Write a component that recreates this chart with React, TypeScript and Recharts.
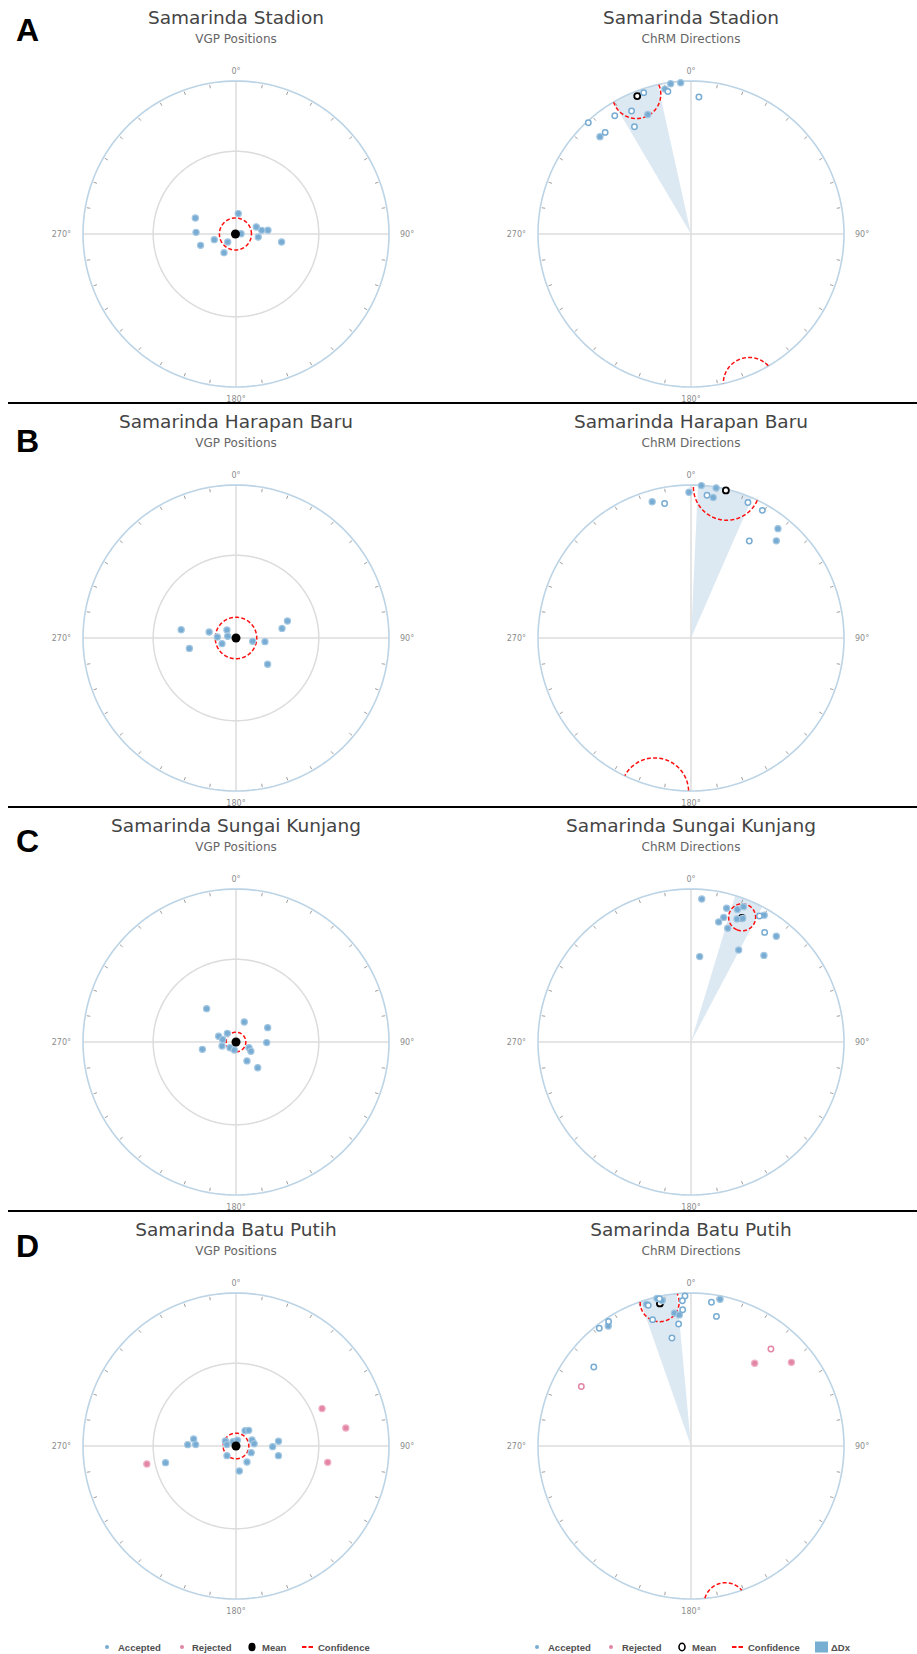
import React from "react";
import { ScatterChart, Scatter, XAxis, YAxis } from "recharts";

type Pair = [number, number];

// panel letters and site names
const letters = ["A", "B", "C", "D"];
const siteNames = [
  "Samarinda Stadion",
  "Samarinda Harapan Baru",
  "Samarinda Sungai Kunjang",
  "Samarinda Batu Putih",
];

// VGP positions, [longitude, latitude]
const vgpA: Pair[] = [
  [6.4, 79.1], [291.5, 66.7], [272.4, 68.7], [252.2, 70.2], [255.4, 78.1], [226.1, 83.9], [212.6, 78.2],
  [86.5, 87.3], [70.9, 78.6], [81.9, 76.2], [83.4, 72.9], [97.8, 78.1], [99.9, 65.3],
];
const vgpB: Pair[] = [
  [278.6, 60.3], [257.4, 64.5], [282.5, 75.4], [273, 80.1], [311.4, 83.6], [281.5, 85.5], [248, 82.0],
  [101.4, 81.0], [97.2, 74.5], [78.2, 64.9], [71.7, 61.0], [129.7, 68.1],
];
const vgpC: Pair[] = [
  [318.6, 66.3], [22.4, 78.5], [65.6, 71.5], [91.1, 73.7], [288.1, 80.3], [315, 83.5], [281, 82.8], [254, 82.3],
  [257.7, 71.7], [226.5, 85.6], [192, 85.7], [113.5, 82.5], [121.9, 80.7], [149.9, 78.4], [139.8, 72.1],
];
const vgpD: Pair[] = [
  [271.6, 64.2], [279.4, 67.1], [272, 68.5], [256.7, 50.9], [295, 83.8], [278.7, 85.1], [324.5, 87.2],
  [13.2, 86.9], [30.7, 80.6], [39.1, 79.3], [69.5, 80.9], [82.8, 80.3], [113.7, 81.2], [145.6, 79.7],
  [172.4, 76.6], [223.1, 83.0], [91, 70.5], [83.6, 67.2], [102.8, 66.8],
];
const vgpRejectedD: Pair[] = [[66.5, 38.6], [80.7, 28.1], [100.1, 39.0], [258.6, 40.3]];
const vgpMeans: Pair[] = [[270, 89.7], [0, 90], [0, 90], [0, 90]];
const vgpA95 = [8.5, 11, 5.2, 6.8];

// ChRM directions, [declination, inclination]; negative inclination = upper hemisphere (open symbol)
const chrmA: Pair[] = [
  [356.1, 0.5], [352.3, 0.5], [349.8, 2.2], [340.1, 10.6], [316.9, 7.9],
  [350.8, -3.3], [341.5, -1.5], [3.3, -6.2], [334.2, -6.5], [327.2, -4.8], [317.3, -0.6], [319.8, -8.0], [332.2, -13.2],
];
const chrmB: Pair[] = [
  [3.9, 0.1], [9.5, 0.3], [359.2, 2.8], [9.0, 4.2], [344.1, 4.4], [38.5, 5.2], [41.3, 9.6],
  [6.4, -3.6], [348.9, -6.3], [22.8, -2.3], [29.2, -2.6], [31.0, -17.0],
];
const chrmC: Pair[] = [
  [4.3, 3.7], [14.9, 5.7], [14.7, 9.8], [13.0, 12.3], [17.9, 14.0], [19.3, 4.9], [21.2, 3.0], [20.5, 8.7],
  [22.7, 7.6], [30.0, 2.5], [38.9, 6.8], [27.4, 21.8], [40.1, 17.0], [5.8, 31.4], [28.5, -3.7], [33.9, -8.4],
];
const chrmD: Pair[] = [
  [342.6, 1.7], [347, 0.6], [348.8, 1.8], [325.4, 2.8], [11.2, 1.3], [352.9, 7.6], [354.9, 8.6],
  [357.7, -1.1], [356.6, -2.9], [356.5, -6.5], [343.1, -2.3], [347.9, -0.9], [343.1, -8.4], [354.2, -12.6],
  [350, -18.7], [326.5, -1.4], [322.1, -1.4], [309.1, -11.4], [8.1, -3.0], [11.1, -8.4],
];
const chrmRejectedD: Pair[] = [[37.6, 21.4], [50.2, 9.0], [39.5, -11.2], [298.5, -11.6]];
const chrmMeans: Pair[] = [[338.7, -1.9], [13.3, -0.5], [22.3, 7.5], [347.7, 2.7]];
const chrmA95 = [9.3, 12.4, 5.7, 7.6];
const deltaDx = [9.2, 10.7, 5.5, 7.0];

const degLabels = ["0°", "90°", "180°", "270°"];

const vgpAccepted = [vgpA, vgpB, vgpC, vgpD];
const vgpRejected: Pair[][] = [[], [], [], vgpRejectedD];
const chrmAccepted = [chrmA, chrmB, chrmC, chrmD];
const chrmRejected: Pair[][] = [[], [], [], chrmRejectedD];

// colours
const BLUE = "#78acd2";
const BLUE_HALO = "#a3c7e2";
const PINK = "#e386a6";
const PINK_HALO = "#efb0c5";
const RIM = "#bcd4e5";
const GRID = "#dcdcdc";
const RED = "#ff1010";
const WEDGE = "#dde9f2";

const rad = (d: number) => (d * Math.PI) / 180;
const deg = (r: number) => (r * 180) / Math.PI;

// VGP plots: equal-area about the pole
function projVgp(lon: number, lat: number) {
  const r = Math.SQRT2 * Math.sin(rad(90 - lat) / 2);
  return { x: r * Math.sin(rad(lon)), y: r * Math.cos(rad(lon)) };
}
// ChRM plots: equal-angle net
function projDir(dec: number, inc: number) {
  const r = Math.tan(rad(90 - Math.abs(inc)) / 2);
  return { x: r * Math.sin(rad(dec)), y: r * Math.cos(rad(dec)) };
}

function toVec(d: number, i: number) {
  const c = Math.cos(rad(i));
  return [c * Math.cos(rad(d)), c * Math.sin(rad(d)), Math.sin(rad(i))];
}
function toDir(v: number[]): Pair {
  const z = Math.max(-1, Math.min(1, v[2]));
  return [(deg(Math.atan2(v[1], v[0])) + 360) % 360, deg(Math.asin(z))];
}

// confidence cone, split where it crosses the primitive (axial -> antipode)
function coneSegments(d0: number, i0: number, alpha: number, proj: (a: number, b: number) => { x: number; y: number }, axial: boolean) {
  const c = toVec(d0, i0);
  const si = Math.sin(rad(i0)), ci = Math.cos(rad(i0));
  const sd = Math.sin(rad(d0)), cd = Math.cos(rad(d0));
  const u = [-si * cd, -si * sd, ci];
  const v = [-sd, cd, 0];
  const side = i0 >= 0 ? 1 : -1;
  const ca = Math.cos(rad(alpha)), sa = Math.sin(rad(alpha));
  const pts: { x: number; y: number; flip: boolean }[] = [];
  for (let t = 0; t < 360; t += 1) {
    const ct = Math.cos(rad(t)), st = Math.sin(rad(t));
    let p = [0, 1, 2].map((k) => ca * c[k] + sa * (ct * u[k] + st * v[k]));
    const flip = axial && p[2] * side < 0;
    if (flip) p = p.map((q) => -q);
    const [a, b] = toDir(p);
    pts.push({ ...proj(a, b), flip });
  }
  const n = pts.length;
  let start = -1;
  for (let k = 0; k < n; k++) {
    if (pts[k].flip !== pts[(k + n - 1) % n].flip) { start = k; break; }
  }
  if (start < 0) return [[...pts, pts[0]]];
  const segs: typeof pts[] = [];
  let cur: typeof pts = [];
  for (let j = 0; j < n; j++) {
    const p = pts[(start + j) % n];
    if (cur.length && p.flip !== cur[cur.length - 1].flip) { segs.push(cur); cur = []; }
    cur.push(p);
  }
  segs.push(cur);
  return segs;
}

const CHART_W = 458;
const CHART_H = 404;
const LEFT_MARGIN = { top: 81, bottom: 17, left: 83, right: 69 };
const RIGHT_MARGIN = { top: 81, bottom: 17, left: 80, right: 72 };

const noDot = () => <g />;

function polyline(key: string, data: any[], stroke: string, width: number, dash?: string) {
  return (
    <Scatter
      key={key}
      data={data}
      fill={stroke}
      shape={noDot}
      line={{ stroke, strokeWidth: width, strokeDasharray: dash, fill: "none" }}
      isAnimationActive={false}
      legendType="none"
    />
  );
}

const tickShape = (p: any) => {
  const a = rad(p.payload.az);
  const s = Math.sin(a), c = Math.cos(a);
  return <line x1={p.cx - s * 1.5} y1={p.cy + c * 1.5} x2={p.cx - s * 5} y2={p.cy + c * 5} stroke="#a0a0a0" strokeWidth={1} />;
};

const labelShape = (p: any) => {
  const az = p.payload.az;
  let dx = 0, dy = 0;
  let anchor: "middle" | "start" | "end" = "middle";
  if (az === 0) dy = -10;
  else if (az === 180) dy = 12;
  else if (az === 90) { dx = 11; anchor = "start"; }
  else { dx = -12; anchor = "end"; }
  return (
    <text x={p.cx + dx} y={p.cy + dy} textAnchor={anchor} dominantBaseline="central" fontSize={8} fill="#8c8c8c" fontFamily="DejaVu Sans">
      {p.payload.label}
    </text>
  );
};

const solidDot = (fill: string, halo: string) => (p: any) =>
  <circle cx={p.cx} cy={p.cy} r={3.1} fill={fill} stroke={halo} strokeWidth={1.2} />;

const dirDot = (fill: string, halo: string) => (p: any) =>
  p.payload.inc >= 0 ? (
    <circle cx={p.cx} cy={p.cy} r={3.1} fill={fill} stroke={halo} strokeWidth={1.2} />
  ) : (
    <circle cx={p.cx} cy={p.cy} r={2.7} fill="#fff" stroke={fill} strokeWidth={1.5} />
  );

function frame(prefix: string, withInner: boolean) {
  const rim = [];
  for (let a = 0; a <= 360; a += 2) rim.push(projDir(a, 0));
  const inner = [];
  for (let a = 0; a <= 360; a += 2) inner.push(projVgp(a, 45));
  const ticks = [];
  for (let a = 10; a < 360; a += 10) if (a % 90 !== 0) ticks.push({ ...projDir(a, 0), az: a });
  const labels = degLabels.map((label, k) => ({ ...projDir(k * 90, 0), az: k * 90, label }));
  const out = [
    polyline(prefix + "v", [{ x: 0, y: -1 }, { x: 0, y: 1 }], GRID, 1.5),
    polyline(prefix + "h", [{ x: -1, y: 0 }, { x: 1, y: 0 }], GRID, 1.5),
  ];
  if (withInner) out.push(polyline(prefix + "in", inner, GRID, 1.5));
  out.push(polyline(prefix + "rim", rim, RIM, 1.6));
  out.push(<Scatter key={prefix + "tk"} data={ticks} shape={tickShape} isAnimationActive={false} legendType="none" />);
  out.push(<Scatter key={prefix + "lb"} data={labels} shape={labelShape} isAnimationActive={false} legendType="none" />);
  return out;
}

const axes = [
  <XAxis key="x" type="number" dataKey="x" domain={[-1, 1]} hide />,
  <YAxis key="y" type="number" dataKey="y" domain={[-1, 1]} hide />,
];

function VgpPanel({ i }: { i: number }) {
  const acc = vgpAccepted[i].map(([lon, lat]) => ({ ...projVgp(lon, lat), lon, lat }));
  const rej = vgpRejected[i].map(([lon, lat]) => ({ ...projVgp(lon, lat), lon, lat }));
  const mean = [projVgp(vgpMeans[i][0], vgpMeans[i][1])];
  const cone = coneSegments(vgpMeans[i][0], vgpMeans[i][1], vgpA95[i], projVgp, false);
  return (
    <ScatterChart width={CHART_W} height={CHART_H} margin={LEFT_MARGIN}>
      {axes}
      {frame("f", true)}
      {cone.map((s, k) => polyline("c" + k, s, RED, 1.5, "4 2.2"))}
      <Scatter data={acc} shape={solidDot(BLUE, BLUE_HALO)} isAnimationActive={false} />
      <Scatter data={rej} shape={solidDot(PINK, PINK_HALO)} isAnimationActive={false} />
      <Scatter data={mean} shape={(p: any) => <circle cx={p.cx} cy={p.cy} r={4.5} fill="#000" />} isAnimationActive={false} />
    </ScatterChart>
  );
}

function ChrmPanel({ i }: { i: number }) {
  const acc = chrmAccepted[i].map(([dec, inc]) => ({ ...projDir(dec, inc), dec, inc }));
  const rej = chrmRejected[i].map(([dec, inc]) => ({ ...projDir(dec, inc), dec, inc }));
  const [md, mi] = chrmMeans[i];
  const mean = [{ ...projDir(md, mi), dec: md, inc: mi }];
  const cone = coneSegments(md, mi, chrmA95[i], projDir, true);
  const wedge: { x: number; y: number }[] = [{ x: 0, y: 0 }];
  for (let a = md - deltaDx[i]; a <= md + deltaDx[i] + 1e-6; a += 0.5) wedge.push(projDir(a, 0));
  wedge.push({ x: 0, y: 0 });
  return (
    <ScatterChart width={CHART_W} height={CHART_H} margin={RIGHT_MARGIN}>
      {axes}
      <Scatter data={wedge} shape={noDot} line={{ fill: WEDGE, stroke: "none" }} isAnimationActive={false} />
      {frame("f", false)}
      {cone.map((s, k) => polyline("c" + k, s, RED, 1.5, "4 2.2"))}
      <Scatter data={mean} shape={(p: any) => <circle cx={p.cx} cy={p.cy} r={3} fill="#fff" stroke="#000" strokeWidth={1.8} />} isAnimationActive={false} />
      <Scatter data={acc} shape={dirDot(BLUE, BLUE_HALO)} isAnimationActive={false} />
      <Scatter data={rej} shape={dirDot(PINK, PINK_HALO)} isAnimationActive={false} />
    </ScatterChart>
  );
}

const letterBaseline = [41, 48, 44, 45];

function Titles({ cx, title, sub }: { cx: number; title: string; sub: string }) {
  return (
    <>
      <div style={{ position: "absolute", left: cx - 200, width: 400, top: 8.8, textAlign: "center", fontFamily: "DejaVu Sans", fontSize: 18.5, lineHeight: "18.5px", color: "#444", whiteSpace: "nowrap" }}>
        {title}
      </div>
      <div style={{ position: "absolute", left: cx - 200, width: 400, top: 32.8, textAlign: "center", fontFamily: "DejaVu Sans", fontSize: 12, lineHeight: "12px", color: "#666", whiteSpace: "nowrap" }}>
        {sub}
      </div>
    </>
  );
}

function Row({ i }: { i: number }) {
  return (
    <div style={{ position: "absolute", left: 0, top: i * 404, width: 917, height: 404 }}>
      <div style={{ position: "absolute", left: 0, top: 0 }}>
        <VgpPanel i={i} />
      </div>
      <div style={{ position: "absolute", left: 458, top: 0 }}>
        <ChrmPanel i={i} />
      </div>
      <Titles cx={236} title={siteNames[i]} sub="VGP Positions" />
      <Titles cx={691} title={siteNames[i]} sub="ChRM Directions" />
      <div style={{ position: "absolute", left: 16, top: letterBaseline[i] - 27.1, fontFamily: "Liberation Sans", fontWeight: 900, fontSize: 32, lineHeight: "32px", color: "#000" }}>
        {letters[i]}
      </div>
      {i < 3 && <div style={{ position: "absolute", left: 8, top: 402, width: 909, height: 2, background: "#000" }} />}
    </div>
  );
}

function Legend() {
  const y = 12;
  const txt = { fontFamily: "Liberation Sans", fontSize: 9.5, fontWeight: "bold" as const, fill: "#505050", dominantBaseline: "central" as const };
  const dashes = (x: number) => (
    <>
      <rect x={x} y={y - 1} width={4.5} height={2} fill={RED} />
      <rect x={x + 6.5} y={y - 1} width={4.5} height={2} fill={RED} />
    </>
  );
  return (
    <svg width={917} height={24} style={{ position: "absolute", left: 0, top: 1635 }}>
      <circle cx={107} cy={y} r={2} fill={BLUE} />
      <text x={118} y={y} {...txt}>Accepted</text>
      <circle cx={182} cy={y} r={2} fill={PINK} />
      <text x={192} y={y} {...txt}>Rejected</text>
      <ellipse cx={252} cy={y} rx={3.6} ry={4.3} fill="#000" />
      <text x={262} y={y} {...txt}>Mean</text>
      {dashes(302)}
      <text x={318} y={y} {...txt}>Confidence</text>

      <circle cx={537} cy={y} r={2} fill={BLUE} />
      <text x={548} y={y} {...txt}>Accepted</text>
      <circle cx={611} cy={y} r={2} fill={PINK} />
      <text x={622} y={y} {...txt}>Rejected</text>
      <ellipse cx={682} cy={y} rx={3} ry={3.7} fill="none" stroke="#000" strokeWidth={1.6} />
      <text x={692} y={y} {...txt}>Mean</text>
      {dashes(732)}
      <text x={748} y={y} {...txt}>Confidence</text>
      <rect x={815} y={y - 5.5} width={13} height={11} fill="#79aed3" />
      <text x={831} y={y} {...txt}>ΔDx</text>
    </svg>
  );
}

export default function App() {
  return (
    <div style={{ position: "absolute", left: 0, top: 0, width: 917, height: 1654, background: "#fff", overflow: "hidden" }}>
      {letters.map((L, i) => (
        <Row key={L} i={i} />
      ))}
      <Legend />
    </div>
  );
}
